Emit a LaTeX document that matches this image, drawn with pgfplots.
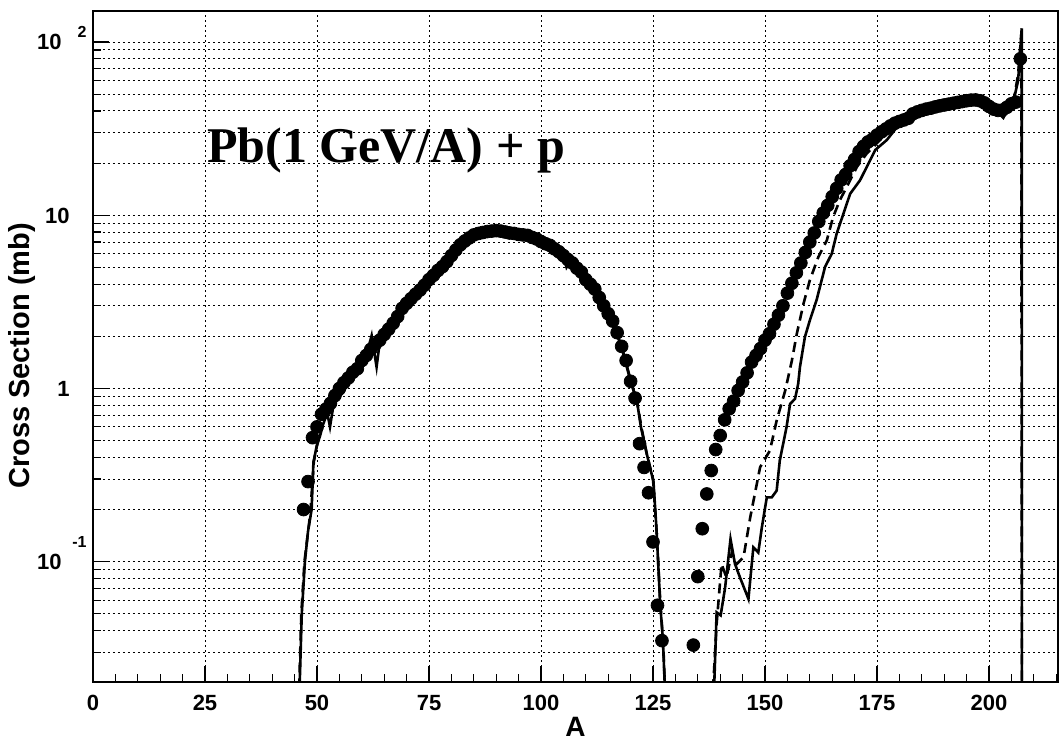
\documentclass[border=0pt]{standalone}
\usepackage{pgfplots}
\usepackage{pgfplotstable}
\pgfplotsset{compat=1.18}
\usepackage{fontspec}
\setmainfont{Liberation Sans}
\newfontfamily\timesfont{Liberation Serif}

% measured cross sections (points)
\pgfplotstableread{
A sigma
47 0.20
48 0.29
49 0.52
50 0.60
51 0.71
52 0.76
53 0.82
54 0.91
55 1.00
56 1.08
57 1.15
58 1.24
59 1.30
60 1.45
61 1.55
62 1.68
63 1.80
64 1.90
65 2.05
66 2.20
67 2.38
68 2.60
69 2.90
70 3.10
71 3.30
72 3.50
73 3.70
74 3.95
75 4.25
76 4.50
77 4.80
78 5.05
79 5.40
80 5.85
81 6.30
82 6.75
83 7.10
84 7.40
85 7.70
86 7.85
87 7.95
88 8.05
89 8.10
90 8.15
91 8.10
92 8.00
93 7.90
94 7.85
95 7.75
96 7.70
97 7.65
98 7.45
99 7.30
100 7.05
101 6.85
102 6.70
103 6.40
104 6.15
105 5.85
106 5.55
107 5.30
108 4.95
109 4.70
110 4.25
111 4.00
112 3.75
113 3.35
114 3.00
115 2.70
116 2.45
117 2.10
118 1.75
119 1.45
120 1.10
121 0.88
122 0.48
123 0.35
124 0.25
125 0.13
126 0.056
127 0.035
134 0.033
135 0.082
136 0.155
137 0.246
138 0.336
139 0.444
140 0.535
141 0.659
142 0.763
143 0.845
144 0.973
145 1.09
146 1.23
147 1.42
148 1.55
149 1.70
150 1.90
151 2.07
152 2.35
153 2.65
154 3.00
155 3.55
156 4.05
157 4.65
158 5.30
159 6.10
160 7.00
161 7.90
162 9.20
163 10.3
164 11.4
165 12.8
166 14.3
167 16.0
168 17.2
169 19.3
170 21.0
171 23.3
172 25.0
173 26.5
174 27.5
175 29.0
176 30.3
177 31.5
178 32.8
179 34.0
180 34.8
181 35.5
182 36.3
183 38.5
184 39.5
185 40.3
186 41.0
187 41.5
188 42.2
189 42.8
190 43.3
191 43.8
192 44.3
193 44.8
194 45.3
195 45.8
196 46.2
197 46.3
198 45.8
199 44.5
200 42.5
201 41.0
202 40.3
203 40.5
204 42.0
205 44.0
206 45.0
207 80.0
}\points

% calculation 1 (solid), fission and residue parts
\pgfplotstableread{
A sigma
46.0 0.015
46.6 0.05
47.3 0.10
48.0 0.15
48.8 0.20
49.2 0.375
49.9 0.46
50.7 0.535
51.4 0.625
52.3 0.72
52.9 0.60
53.6 0.78
54.5 0.87
55.9 0.95
57 1.10
58 1.22
59 1.30
60 1.42
61 1.55
62.2 2.02
63.3 1.33
64 1.85
65 2.0
66 2.2
67 2.4
68 2.6
69 2.85
70 3.15
70.5 2.95
71.5 3.3
73 3.7
75 4.2
77 4.75
79 5.4
81 6.25
83 7.1
85 7.65
87 7.95
89 8.1
91 8.05
93 7.85
95 7.7
97 7.6
99 7.25
101 6.85
103 6.35
105 5.8
105.7 5.0
106.5 5.4
108 4.95
110 4.2
112 3.7
114 2.95
116 2.4
118 1.72
120 1.1
121.4 0.85
122.3 0.6
123.6 0.42
125.1 0.29
125.8 0.151
126.6 0.057
127.2 0.0357
127.8 0.015
}\solidA
\pgfplotstableread{
A sigma
138.4 0.012
139.2 0.051
140.1 0.049
141.1 0.071
142.3 0.135
143.3 0.097
144.5 0.080
146.3 0.061
147.4 0.121
148.5 0.113
149.3 0.158
150.4 0.235
151.5 0.235
152.6 0.257
153.3 0.384
154.8 0.597
155.6 0.815
156.7 0.871
157.4 1.06
157.8 1.33
158.9 1.98
160.0 2.47
161.5 3.23
163.4 5.03
164.9 6.0
166.0 7.84
167.5 10.2
169.0 13.3
171.2 15.9
173.1 19.9
174.6 23.8
177.2 27.2
180.1 33.9
183 37.5
186 40.5
189 42.3
192 44
195 45.3
197 45.8
199 44
200.5 41.5
202 39
203.2 36.5
204.2 41
205.5 46
206.5 60
207.3 120
207.35 0.01
}\solidB

% calculation 2 (dashed)
\pgfplotstableread{
A sigma
45.9 0.015
46.5 0.05
47.2 0.10
48.5 0.19
49.3 0.38
50.5 0.55
51.5 0.65
52.5 0.75
54 0.86
56 1.0
58 1.2
60 1.45
62 1.7
64 1.9
66 2.2
68 2.6
70 3.1
72 3.5
74 3.95
76 4.5
78 5.05
80 5.85
82 6.7
84 7.4
86 7.85
88 8.05
90 8.1
92 7.95
94 7.8
96 7.65
98 7.4
100 7.0
102 6.6
104 6.1
106 5.5
108 4.9
110 4.2
112 3.7
114 3.0
116 2.4
118 1.75
120 1.12
121.5 0.82
122.5 0.58
123.6 0.42
125 0.3
125.8 0.15
126.6 0.06
127.3 0.033
127.8 0.015
}\dashA
\pgfplotstableread{
A sigma
138.0 0.012
139.2 0.0436
140.3 0.097
141.4 0.081
142.6 0.113
143.7 0.097
145.2 0.106
146.7 0.18
148.9 0.351
151.1 0.438
152.6 0.653
154.5 0.97
156.0 1.45
157.1 2.07
158.6 3.09
160.0 4.21
161.9 5.74
163.8 7.17
165.2 9.77
166.7 12.2
168.6 15.2
170.5 19.0
172.7 22.7
175.7 27.2
178 31.3
180 34.2
183 38
186 40.8
189 42.5
192 44.2
195 45.5
197 46
199 44.5
200.5 42
202 39.5
203 38.5
204.2 42
205.5 46
206.5 65
207.2 110
207.35 0.01
}\dashB

\newcommand{\tl}{\fontsize{11}{13}\selectfont\bfseries}
\newcommand{\ex}{\fontsize{8}{9}\selectfont\bfseries}

\begin{document}
\begin{tikzpicture}
\useasboundingbox (0,0) rectangle (530.5pt,370pt);
\begin{axis}[
  at={(46.5pt,29pt)}, anchor=south west,
  scale only axis, width=482.5pt, height=335.5pt,
  xmin=0, xmax=215.4,
  ymode=log, ymin=0.0202, ymax=151,
  axis line style={line width=1pt},
  tick pos=left, tick align=inside,
  major tick length=8pt, minor tick length=4pt,
  every tick/.style={black, line width=0.6pt},
  xtick={0,25,...,200},
  minor xtick={0,5,...,215},
  ytick={0.1,1,10,100},
  minor ytick={0.03,0.04,0.05,0.06,0.07,0.08,0.09,0.2,0.3,0.4,0.5,0.6,0.7,0.8,0.9,2,3,4,5,6,7,8,9,20,30,40,50,60,70,80,90},
  yticklabels={
    {\tl 10\makebox[12.5pt][r]{\raisebox{11pt}{\ex -1}}},
    {\tl 1\makebox[8.5pt]{}},
    {\tl 10\makebox[8.5pt]{}},
    {\tl 10\makebox[12.5pt][r]{\raisebox{6pt}{\ex 2}}}},
  yticklabel style={anchor=base east, inner sep=0pt, xshift=-3pt, yshift=-3.9pt},
  xticklabel style={font=\tl, anchor=north, inner sep=0pt, yshift=-6.5pt},
  /pgf/number format/assume math mode=true,
  xmajorgrids=true, ymajorgrids=true, yminorgrids=true,
  major grid style={black, line width=0.5pt, dash pattern=on 1pt off 1.5pt},
  minor grid style={black, line width=0.5pt, dash pattern=on 1pt off 1.5pt},
  xlabel={A},
  xlabel style={at={(axis description cs:0.5,-0.0522)}, anchor=north, inner sep=0pt,
    font=\fontsize{14}{16}\selectfont\bfseries},
  ylabel={Cross Section (mb)},
  ylabel style={at={(axis description cs:-0.0731,0.486)}, anchor=center, inner sep=0pt,
    font=\fontsize{14.5}{16}\selectfont\bfseries},
]
\addplot[only marks, mark=*, mark size=3.2pt, black, mark options={fill=black}] table {\points};
\addplot[black, line width=1.3pt] table {\solidA};
\addplot[black, line width=1.3pt] table {\solidB};
\addplot[black, line width=1.3pt, dash pattern=on 5pt off 3pt] table {\dashA};
\addplot[black, line width=1.3pt, dash pattern=on 5pt off 3pt] table {\dashB};
\node[anchor=base west, inner sep=0pt, font=\timesfont\bfseries\fontsize{25}{30}\selectfont]
  at (rel axis cs:0.118,0.7735) {Pb(1 GeV/A) + p};
\end{axis}
\end{tikzpicture}
\end{document}
